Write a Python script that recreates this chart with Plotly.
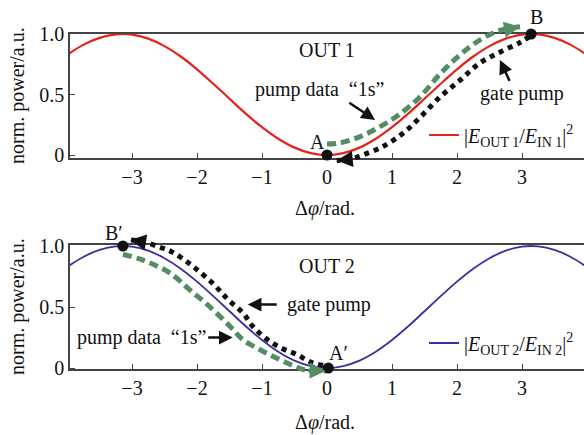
import plotly.graph_objects as go

# ---------------- data ----------------
phi = [-4.0, -3.75, -3.5, -3.25, -3.0, -2.75, -2.5, -2.25, -2.0, -1.75, -1.5, -1.25,
       -1.0, -0.75, -0.5, -0.25, 0.0, 0.25, 0.5, 0.75, 1.0, 1.25, 1.5, 1.75, 2.0,
       2.25, 2.5, 2.75, 3.0, 3.25, 3.5, 3.75, 4.0]
out1 = [0.827, 0.910, 0.968, 0.997, 0.995, 0.962, 0.900, 0.814, 0.708, 0.589, 0.465, 0.342,
        0.230, 0.134, 0.061, 0.016, 0.0, 0.016, 0.061, 0.134, 0.230, 0.342, 0.465, 0.589, 0.708,
        0.814, 0.900, 0.962, 0.995, 0.997, 0.968, 0.910, 0.827]
out2 = [0.827, 0.910, 0.968, 0.997, 0.995, 0.962, 0.900, 0.814, 0.708, 0.589, 0.465, 0.342,
        0.230, 0.134, 0.061, 0.016, 0.0, 0.016, 0.061, 0.134, 0.230, 0.342, 0.465, 0.589, 0.708,
        0.814, 0.900, 0.962, 0.995, 0.997, 0.968, 0.910, 0.827]

# pump data "1s" path (top) and gate pump path (top)
data1_x = [0.0, 0.2, 0.5, 0.8, 1.1, 1.43, 1.74, 2.05, 2.35, 2.66, 2.97]
data1_y = [0.09, 0.10, 0.15, 0.23, 0.33, 0.48, 0.67, 0.83, 0.95, 1.03, 1.06]
gate1_x = [3.12, 2.97, 2.66, 2.35, 2.05, 1.74, 1.43, 1.17, 0.86, 0.55, 0.35, 0.15]
gate1_y = [0.98, 0.93, 0.85, 0.76, 0.62, 0.48, 0.31, 0.18, 0.07, 0.0, -0.035, -0.045]

# gate pump path (bottom) and pump data "1s" path (bottom)
gate2_x = [-0.06, -0.26, -0.46, -0.69, -0.91, -1.14, -1.29, -1.52, -1.77, -2.08, -2.38, -2.57, -2.8, -3.03]
gate2_y = [0.02, 0.05, 0.11, 0.16, 0.23, 0.34, 0.45, 0.56, 0.70, 0.84, 0.95, 0.99, 1.03, 1.05]
data2_x = [-3.14, -2.92, -2.72, -2.42, -2.11, -1.8, -1.49, -1.29, -1.03, -0.77, -0.52, -0.31, -0.02]
data2_y = [0.93, 0.90, 0.86, 0.78, 0.64, 0.50, 0.34, 0.23, 0.15, 0.08, 0.02, -0.02, -0.025]

pts1_x = [0.0, 3.14]
pts1_y = [0.0, 1.0]
pts2_x = [-3.14, 0.02]
pts2_y = [1.0, 0.0]

xticks = [-3, -2, -1, 0, 1, 2, 3]
yticks = [0, 0.5, 1.0]
yticktext = ["0", "0.5", "1.0"]

# ---------------- styling / layout ----------------
W, H = 584, 435
FONT = "Liberation Serif"
FS = 20
RED = "#e5231b"
BLUE = "#3b2f9e"
GREEN = "#558c64"
BLACK = "#111111"
FRAME = "#444444"


def yp(py):
    return 1 - py / H


def phi_at(px):
    return (px - 327) / 65


xdom = [70 / W, 1.0]
xrng = [phi_at(70), phi_at(584)]

fig = go.Figure()

# main curves
fig.add_trace(go.Scatter(x=phi, y=out1, mode="lines", line=dict(color=RED, width=2.2, shape="spline"),
                         name="|<i>E</i><sub>OUT 1</sub>/<i>E</i><sub>IN 1</sub>|<sup>2</sup>",
                         xaxis="x", yaxis="y", legend="legend"))
fig.add_trace(go.Scatter(x=phi, y=out2, mode="lines", line=dict(color=BLUE, width=1.8, shape="spline"),
                         name="|<i>E</i><sub>OUT 2</sub>/<i>E</i><sub>IN 2</sub>|<sup>2</sup>",
                         xaxis="x2", yaxis="y2", legend="legend2"))

ann = []


def path(xs, ys, color, dash, xa, ya):
    fig.add_trace(go.Scatter(
        x=xs, y=ys, mode="lines", xaxis=xa, yaxis=ya, showlegend=False,
        line=dict(color=color, width=5, dash=dash, shape="spline")))
    # arrow head at the end of the path, pointing along its last segment
    ann.append(dict(x=xs[-1], y=ys[-1], ax=xs[-2], ay=ys[-2], xref=xa, yref=ya,
                    axref=xa, ayref=ya, text="", showarrow=True, arrowhead=2,
                    arrowsize=0.8, arrowwidth=4, arrowcolor=color, standoff=0))


path(data1_x, data1_y, GREEN, "9px,5px", "x", "y3")
path(gate1_x, gate1_y, BLACK, "dot", "x", "y3")
path(gate2_x, gate2_y, BLACK, "dot", "x2", "y4")
path(data2_x, data2_y, GREEN, "9px,5px", "x2", "y4")

fig.add_trace(go.Scatter(x=pts1_x, y=pts1_y, mode="markers", xaxis="x", yaxis="y3", showlegend=False,
                         marker=dict(color=BLACK, size=11), cliponaxis=False))
fig.add_trace(go.Scatter(x=pts2_x, y=pts2_y, mode="markers", xaxis="x2", yaxis="y4", showlegend=False,
                         marker=dict(color=BLACK, size=11), cliponaxis=False))

axfont = dict(family=FONT, size=FS, color="#111")
xcommon = dict(range=xrng, domain=xdom, showline=True, linecolor=FRAME, linewidth=1.5, mirror=True,
               ticks="inside", ticklen=5, tickwidth=1.2, tickcolor=FRAME, tickvals=xticks,
               tickfont=axfont, showgrid=False, zeroline=False, automargin=False)
ycommon = dict(showline=True, linecolor=FRAME, linewidth=1.5, mirror=False,
               ticks="inside", ticklen=5, tickwidth=1.2, tickcolor=FRAME, tickvals=yticks,
               ticktext=yticktext, tickfont=axfont, showgrid=False, zeroline=False, automargin=False)

fig.update_layout(
    width=W, height=H, margin=dict(l=0, r=0, t=0, b=0, autoexpand=False),
    paper_bgcolor="white", plot_bgcolor="rgba(0,0,0,0)",
    font=dict(family=FONT, size=FS, color="#111"),
    xaxis=dict(anchor="y", **xcommon),
    xaxis2=dict(anchor="y2", **xcommon),
    yaxis=dict(anchor="x", domain=[yp(158), yp(34)], range=[(155 - 158) / 121, (155 - 34) / 121], **ycommon),
    yaxis2=dict(anchor="x2", domain=[yp(369), yp(245)], range=[(368 - 369) / 122, (368 - 245) / 122], **ycommon),
    yaxis3=dict(anchor="x", domain=[yp(178), yp(2)], range=[(155 - 178) / 121, (155 - 2) / 121],
                visible=False, automargin=False),
    yaxis4=dict(anchor="x2", domain=[yp(388), yp(218)], range=[(368 - 388) / 122, (368 - 218) / 122],
                visible=False, automargin=False),
    legend=dict(x=424 / W, y=yp(135), xanchor="left", yanchor="middle", bgcolor="rgba(0,0,0,0)",
                font=dict(family=FONT, size=FS), itemwidth=30, tracegroupgap=0),
    legend2=dict(x=424 / W, y=yp(343), xanchor="left", yanchor="middle", bgcolor="rgba(0,0,0,0)",
                 font=dict(family=FONT, size=FS), itemwidth=30, tracegroupgap=0),
    showlegend=True,
)


def txt(x, y, s, xr, yr):
    ann.append(dict(x=x, y=y, xref=xr, yref=yr, text=s, showarrow=False,
                    xanchor="center", yanchor="middle", font=dict(family=FONT, size=FS)))


def arr(x, y, ax, ay, xr, yr):
    ann.append(dict(x=x, y=y, ax=ax, ay=ay, xref=xr, yref=yr, axref=xr, ayref=yr, text="",
                    showarrow=True, arrowhead=2, arrowsize=1.1, arrowwidth=2.5, arrowcolor=BLACK))


# top panel texts (overlay axis y3 has the same scale as y, but a wider range)
txt(0.0, 0.87, "OUT 1", "x", "y3")
txt(-0.11, 0.54, "pump data\u00a0\u00a0\u201c1s\u201d", "x", "y3")
arr(0.74, 0.29, 0.32, 0.44, "x", "y3")
txt(3.0, 0.51, "gate pump", "x", "y3")
arr(2.66, 0.785, 2.82, 0.60, "x", "y3")
txt(-0.15, 0.11, "A", "x", "y3")
txt(3.23, 1.14, "B", "x", "y3")

# bottom panel texts
txt(0.0, 0.84, "OUT 2", "x2", "y4")
txt(0.03, 0.52, "gate pump", "x2", "y4")
arr(-1.22, 0.52, -0.75, 0.52, "x2", "y4")
txt(-2.85, 0.25, "pump data\u00a0\u00a0\u201c1s\u201d", "x2", "y4")
arr(-1.45, 0.25, -1.85, 0.25, "x2", "y4")
txt(-3.28, 1.11, "B\u2032", "x2", "y4")
txt(0.18, 0.12, "A\u2032", "x2", "y4")

# axis titles
for pyc in (208, 422):
    ann.append(dict(x=325 / W, y=yp(pyc), xref="paper", yref="paper", text="\u0394<i>\u03c6</i>/rad.",
                    xanchor="center", yanchor="middle", showarrow=False, font=dict(family=FONT, size=FS)))
for pyc in (96, 307):
    ann.append(dict(x=17 / W, y=yp(pyc), xref="paper", yref="paper", text="norm. power/a.u.",
                    xanchor="center", yanchor="middle", textangle=-90, showarrow=False,
                    font=dict(family=FONT, size=FS)))

fig.update_layout(annotations=ann)
fig.write_html("out.html")
